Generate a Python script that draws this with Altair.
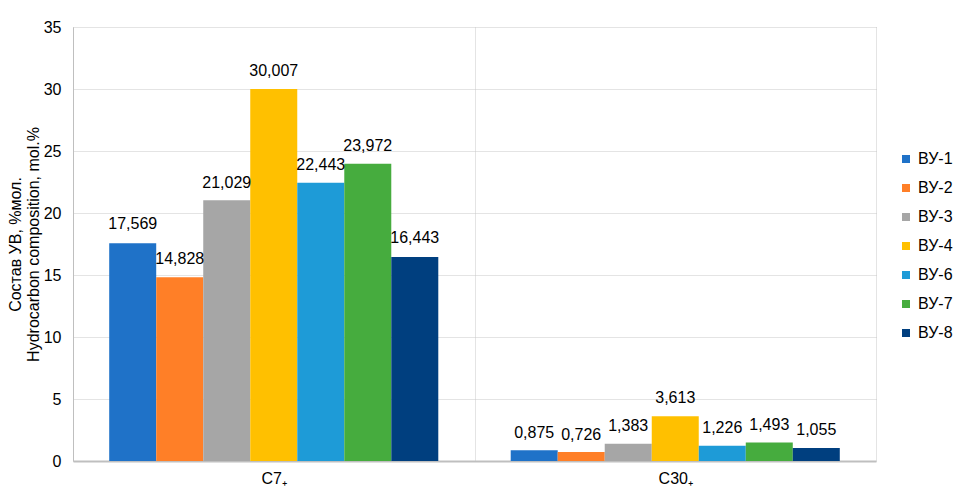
import altair as alt
import pandas as pd

categories = ["C7₊", "C30₊"]
series = ["ВУ-1", "ВУ-2", "ВУ-3", "ВУ-4", "ВУ-6", "ВУ-7", "ВУ-8"]
values_c7 = [17.569, 14.828, 21.029, 30.007, 22.443, 23.972, 16.443]
values_c30 = [0.875, 0.726, 1.383, 3.613, 1.226, 1.493, 1.055]
# label anchor heights (data units) (labels moved by hand in source)
label_at_c7 = [19.1, 16.3, 22.4, 31.45, 23.87, 25.4, 17.96]
label_at_c30 = [2.23, 2.1, 2.85, 5.05, 2.63, 2.9, 2.5]
colors = ["#1f72c8", "#ff7f27", "#a6a6a6", "#ffc000", "#1e9bd7", "#46ac3e", "#003f7f"]

rows = []
for cat, vals, labs in [(categories[0], values_c7, label_at_c7), (categories[1], values_c30, label_at_c30)]:
    for s, v, l in zip(series, vals, labs):
        rows.append({"cat": cat, "series": s, "value": v, "label_y": l,
                     "text": f"{v:.3f}".replace(".", ",")})
df = pd.DataFrame(rows)

FONT = "Liberation Sans"

x = alt.X("cat:N", sort=categories, title=None,
          scale=alt.Scale(paddingInner=0, paddingOuter=0),
          axis=alt.Axis(labelAngle=0, ticks=False, labelFontSize=16, labelFont=FONT,
                        labelColor="#000000", labelPadding=9, domainColor="#bfbfbf",
                        domainWidth=2, grid=True, tickBand="extent", gridColor="#c8c8c8",
                        gridDash=[1, 1], gridWidth=1))
xoff = alt.XOffset("series:N", sort=series,
                   scale=alt.Scale(paddingInner=0, paddingOuter=0.77))

bars = alt.Chart(df).mark_bar(size=47).encode(
    x=x,
    xOffset=xoff,
    y=alt.Y("value:Q", scale=alt.Scale(domain=[0, 35]),
            title=["Состав УВ, %мол.", "Hydrocarbon composition, mol.%"],
            axis=alt.Axis(values=list(range(0, 36, 5)), ticks=False, labelPadding=12,
                          labelFontSize=16, labelFont=FONT, labelColor="#000000",
                          titleFontSize=16, titleFont=FONT, titleFontWeight="normal",
                          titleColor="#000000", titlePadding=2, titleLineHeight=18,
                          domainColor="#bfbfbf", gridColor="#c8c8c8", gridDash=[1, 1])),
    color=alt.Color("series:N", sort=series,
                    scale=alt.Scale(domain=series, range=colors),
                    legend=alt.Legend(title=None, orient="none", legendX=825, legendY=124,
                                      symbolType="square", symbolSize=64,
                                      labelFontSize=16, labelFont=FONT, labelColor="#000000",
                                      rowPadding=13, symbolStrokeWidth=0)),
)

labels = alt.Chart(df).mark_text(fontSize=16, font=FONT, color="#000000", baseline="middle").encode(
    x=alt.X("cat:N", sort=categories),
    xOffset=xoff,
    y=alt.Y("label_y:Q"),
    text="text:N",
)

chart = alt.layer(bars, labels).properties(
    width=803, height=434,
    padding={"left": 65, "top": 19, "right": 80, "bottom": 30},
    autosize=alt.AutoSizeParams(type="none"),
).configure_view(stroke=None).configure_axis(gridOpacity=1)

chart.save("out.html", embed_options={"renderer": "svg", "actions": False})
